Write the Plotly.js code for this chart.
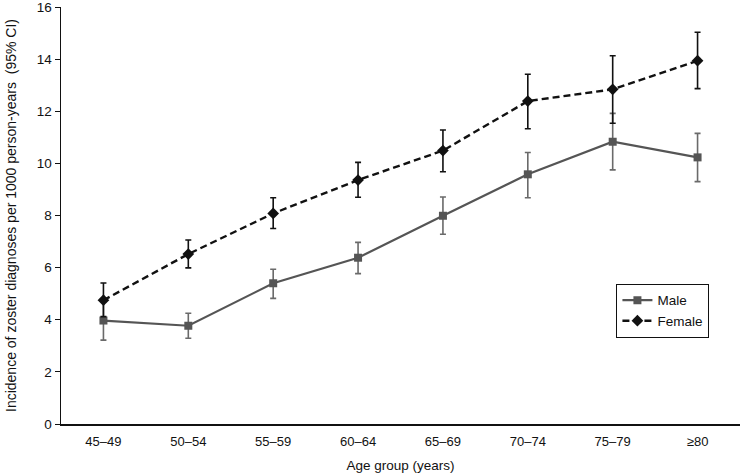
<!DOCTYPE html>
<html>
<head>
<meta charset="utf-8">
<script src="https://cdn.plot.ly/plotly-3.0.1.min.js"></script>
<style>
  html, body { margin: 0; padding: 0; background: #fff; }
  #chart { width: 742px; height: 476px; }
</style>
</head>
<body>
<div id="chart"></div>
<script>
// age groups on the x axis
const ageGroups = ['45–49', '50–54', '55–59', '60–64', '65–69', '70–74', '75–79', '≥80'];

// incidence per 1000 person-years, with 95% CI bounds
const maleRate = [3.97, 3.77, 5.40, 6.38, 7.99, 9.58, 10.83, 10.23];
const maleUpper = [4.70, 4.25, 5.94, 6.97, 8.71, 10.42, 11.92, 11.15];
const maleLower = [3.22, 3.29, 4.82, 5.77, 7.28, 8.68, 9.75, 9.30];

const femaleRate = [4.75, 6.52, 8.08, 9.36, 10.49, 12.39, 12.84, 13.94];
const femaleUpper = [5.41, 7.06, 8.68, 10.04, 11.28, 13.42, 14.13, 15.03];
const femaleLower = [4.12, 5.99, 7.50, 8.70, 9.68, 11.33, 11.54, 12.87];

const yTicks = [0, 2, 4, 6, 8, 10, 12, 14, 16];

const FONT = '"Liberation Sans Narrow", "Liberation Sans", Arial, sans-serif';

function errorOf(rate, upper, lower, color) {
    return {
        type: 'data',
        symmetric: false,
        array: upper.map((u, i) => u - rate[i]),
        arrayminus: rate.map((r, i) => r - lower[i]),
        color: color,
        thickness: 1.6,
        width: 3
    };
}

const male = {
    x: ageGroups,
    y: maleRate,
    name: 'Male',
    type: 'scatter',
    mode: 'lines+markers',
    line: { color: '#555555', width: 2.2 },
    marker: { symbol: 'square', size: 8, color: '#555555' },
    error_y: errorOf(maleRate, maleUpper, maleLower, '#6a6a6a')
};

const female = {
    x: ageGroups,
    y: femaleRate,
    name: 'Female',
    type: 'scatter',
    mode: 'lines+markers',
    line: { color: '#111111', width: 2.4, dash: '7px,4px' },
    marker: { symbol: 'diamond', size: 9, color: '#111111' },
    error_y: errorOf(femaleRate, femaleUpper, femaleLower, '#111111')
};

const layout = {
    width: 742,
    height: 476,
    margin: { l: 61, r: 2, t: 7, b: 52 },
    paper_bgcolor: '#ffffff',
    plot_bgcolor: '#ffffff',
    font: { family: FONT, size: 13, color: '#111111' },
    showlegend: true,
    legend: {
        x: 0.818, y: 0.336, xanchor: 'left', yanchor: 'top',
        bordercolor: '#111111', borderwidth: 1,
        bgcolor: '#ffffff',
        font: { family: FONT, size: 13.5, color: '#111111' },
        tracegroupgap: 4
    },
    xaxis: {
        type: 'category',
        range: [-0.5, 7.5],
        showgrid: false,
        zeroline: false,
        showline: true,
        linecolor: '#111111',
        linewidth: 1.5,
        ticks: '',
        ticklabelstandoff: 5,
        tickfont: { family: FONT, size: 13 },
        title: { text: 'Age group (years)', font: { family: FONT, size: 13.5 }, standoff: 12 },
        automargin: false
    },
    yaxis: {
        range: [0, 16],
        tickvals: yTicks,
        ticktext: yTicks.map(String),
        showgrid: false,
        zeroline: false,
        showline: true,
        linecolor: '#111111',
        linewidth: 1.5,
        ticks: 'outside',
        ticklen: 5,
        tickcolor: '#111111',
        ticklabeloverflow: 'allow',
        tickfont: { family: FONT, size: 13.5 },
        title: {
            text: 'Incidence of zoster diagnoses per 1000 person-years  (95% CI)',
            font: { family: FONT, size: 14 },
            standoff: 17
        },
        automargin: false
    }
};

Plotly.newPlot('chart', [male, female], layout, { staticPlot: true });
</script>
</body>
</html>
